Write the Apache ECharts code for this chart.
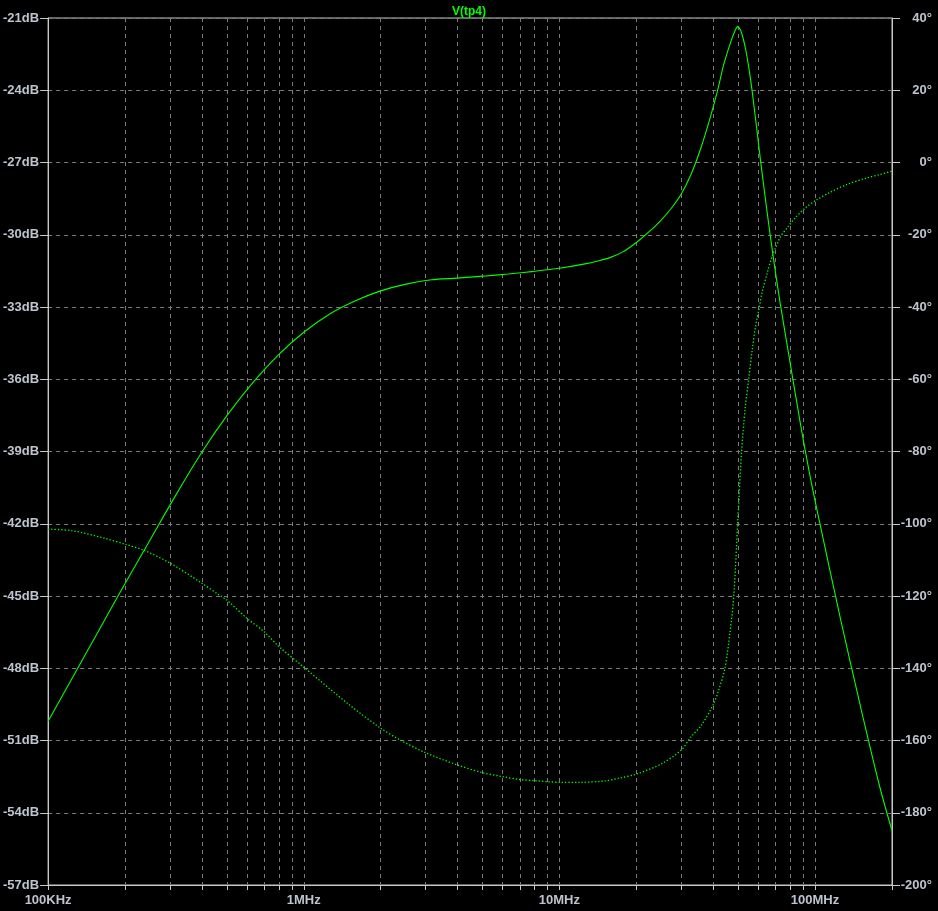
<!DOCTYPE html>
<html><head><meta charset="utf-8">
<style>html,body{margin:0;padding:0;background:#000}#c{width:938px;height:911px}</style>
<script src="https://cdn.jsdelivr.net/npm/echarts@6.0.0/dist/echarts.min.js"></script>
</head><body><div id="c"></div>
<script>
const chartTitle = 'V(tp4)';
const magFreq = [1e5,1.259e5,1.585e5,1.995e5,2.512e5,3.162e5,3.981e5,5.012e5,6.31e5,7.943e5,1e6,1.259e6,1.585e6,2e6,2.512e6,3.162e6,3.981e6,5.012e6,6.31e6,7.943e6,1e7,1.259e7,1.413e7,1.585e7,1.778e7,2e7,2.286e7,2.5e7,2.735e7,2.99e7,3.27e7,3.576e7,3.91e7,4.165e7,4.394e7,4.677e7,4.85e7,4.98e7,5.12e7,5.35e7,5.595e7,5.85e7,6.12e7,6.4e7,6.69e7,6.995e7,7.32e7,8.0e7,8.75e7,9.57e7,1.047e8,1.252e8,1.497e8,1.791e8,2e8];
const magDb = [-50.2,-48.3,-46.4,-44.5,-42.65,-40.8,-39.05,-37.5,-36.15,-35.0,-34.05,-33.3,-32.75,-32.33,-32.05,-31.87,-31.8,-31.72,-31.63,-31.52,-31.39,-31.21,-31.09,-30.94,-30.7,-30.32,-29.8,-29.39,-28.91,-28.33,-27.5,-26.4,-25.05,-23.97,-22.93,-22.0,-21.56,-21.36,-21.52,-22.29,-23.55,-25.17,-26.92,-28.54,-30.08,-31.53,-32.9,-35.35,-37.8,-40.04,-42.04,-45.86,-49.47,-52.92,-54.74];
const phaseFreq = [1e5,1.236e5,1.66e5,2e5,2.38e5,3e5,4e5,4.73e5,5e5,6e5,7e5,8e5,1e6,1.5e6,2e6,2.4e6,3e6,4e6,5e6,6e6,7e6,8e6,9e6,1e7,1.2e7,1.5e7,1.7e7,2e7,2.5e7,3e7,3.27e7,3.6e7,4e7,4.2e7,4.44e7,4.65e7,4.81e7,4.98e7,5.16e7,5.33e7,5.5e7,5.68e7,5.85e7,6.06e7,6.2e7,6.5e7,6.79e7,7.0e7,7.32e7,7.77e7,8.37e7,9.15e7,1.016e8,1.145e8,1.33e8,1.59e8,1.79e8,2e8];
const phaseDeg = [-101.5,-101.9,-104.0,-105.66,-107.4,-110.9,-116.5,-120,-121.1,-126.2,-129.9,-134.0,-139.7,-150,-156.6,-160,-163.4,-166.8,-168.9,-170.0,-170.8,-171.1,-171.4,-171.6,-171.6,-171.2,-170.5,-169.3,-166.5,-162.6,-159.0,-155.7,-150,-146,-140,-130,-120,-100,-80,-68,-60,-51.8,-45.4,-40,-36.1,-30.6,-26,-23.7,-20.6,-18.1,-15.3,-12.6,-10.3,-8.25,-6.1,-4.3,-3.35,-2.4];
const xLabelValues = [1e5,1e6,1e7,1e8];
const xLabelText = ['100KHz','1MHz','10MHz','100MHz'];
const xMin = 1e5, xMax = 2e8;
const dbMin = -57, dbMax = -21, dbStep = 3;
const degMin = -200, degMax = 40, degStep = 20;

const xGridValues = [];
xLabelValues.forEach(d => { for (let m = 1; m <= 9; m++) { const v = m * d; if (v <= xMax * 1.0001) xGridValues.push(v); } });

const FONT = 'Liberation Sans, Arial, sans-serif';
const LBL = '#bcc4ce';
const FRAME = '#c8c8c8';
const GRIDC = '#7a7a7a';
const GREEN = '#00ff00';

const chart = echarts.init(document.getElementById('c'), null, {renderer: 'canvas'});
chart.setOption({
  backgroundColor: '#000',
  animation: false,
  title: {text: chartTitle, left: 'center', top: 1, textStyle: {color: GREEN, fontSize: 12, fontWeight: 'bold', fontFamily: FONT}},
  grid: {left: 43, right: 46, top: 18, bottom: 26, containLabel: false, show: true, borderColor: FRAME, borderWidth: 1, backgroundColor: '#000'},
  xAxis: {
    type: 'log', logBase: 10, min: xMin, max: xMax,
    axisLine: {show: true, onZero: false, lineStyle: {color: FRAME, width: 1}},
    axisTick: {show: true, customValues: xGridValues, length: 5, lineStyle: {color: FRAME}},
    axisLabel: {customValues: xLabelValues, margin: 9, color: LBL, fontSize: 13, fontWeight: 'bold', fontFamily: FONT,
      formatter: v => { for (let i = 0; i < xLabelValues.length; i++) if (Math.abs(Math.log10(v / xLabelValues[i])) < 1e-6) return xLabelText[i]; return ''; }},
    splitLine: {show: true, lineStyle: {color: GRIDC, type: [4, 4], width: 1}},
    minorTick: {show: false}
  },
  yAxis: [
    {type: 'value', min: dbMin, max: dbMax, interval: dbStep, position: 'left',
     axisLine: {show: true, onZero: false, lineStyle: {color: FRAME}},
     axisTick: {show: true, length: 8, lineStyle: {color: FRAME}},
     axisLabel: {margin: 9, color: LBL, fontSize: 13, fontWeight: 'bold', fontFamily: FONT, formatter: v => v + 'dB'},
     splitLine: {show: true, lineStyle: {color: GRIDC, type: [4, 4], width: 1}}},
    {type: 'value', min: degMin, max: degMax, interval: degStep, position: 'right',
     axisLine: {show: true, onZero: false, lineStyle: {color: FRAME}},
     axisTick: {show: true, length: 8, lineStyle: {color: FRAME}},
     axisLabel: {margin: 40, align: 'right', color: LBL, fontSize: 13, fontWeight: 'bold', fontFamily: FONT, formatter: v => v + '°'},
     splitLine: {show: false}}
  ],
  series: [
    {name: 'mag', type: 'line', yAxisIndex: 0, showSymbol: false, smooth: 0.3,
     data: magFreq.map((f, i) => [f, magDb[i]]), lineStyle: {color: GREEN, width: 1.1}, silent: true},
    {name: 'phase', type: 'line', yAxisIndex: 1, showSymbol: false, smooth: 0.3,
     data: phaseFreq.map((f, i) => [f, phaseDeg[i]]), lineStyle: {color: GREEN, width: 1.3, type: [1.3, 2]}, silent: true}
  ]
});
</script></body></html>
